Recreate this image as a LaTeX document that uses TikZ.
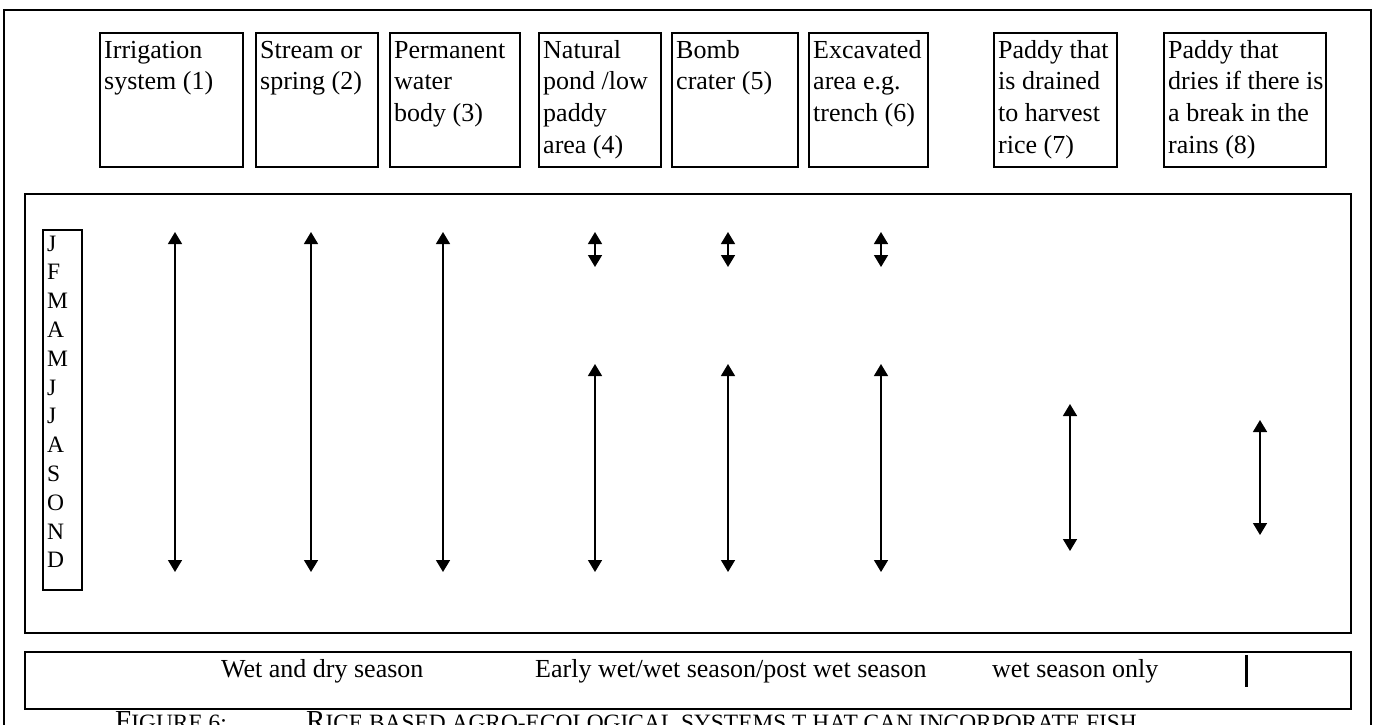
\documentclass[tikz,border=0pt]{standalone}
\usepackage{fontspec}
\setmainfont{Liberation Serif}
\usetikzlibrary{arrows.meta,calc}
\tikzset{
  frameline/.style={draw, line width=1.8pt},
  topbox/.style={draw, line width=1.8pt, anchor=north west, inner sep=0pt, minimum height=134pt},
  boxtext/.style={anchor=base west, inner sep=0pt, font=\fontsize{26}{31.7}\selectfont},
  monthtext/.style={anchor=base west, inner sep=0pt, font=\fontsize{23.5}{23.5}\selectfont},
  seasontext/.style={anchor=base west, inner sep=0pt, font=\fontsize{26}{26}\selectfont},
  period/.style={line width=1.5pt, {Triangle[width=14pt,length=12pt]}-{Triangle[width=14pt,length=12pt]}},
}
\begin{document}
\begin{tikzpicture}[x=1pt,y=-1pt]
\useasboundingbox (0,0) rectangle (1375,724);
\clip (0,0) rectangle (1375,724);
% outer frame
\draw[line width=2.5pt] (4,10) rectangle (1371,780);
% top boxes
\node[topbox, minimum width=143pt] (b1) at (99,32) {};
\node[topbox, minimum width=122pt] (b2) at (255,32) {};
\node[topbox, minimum width=130pt] (b3) at (389,32) {};
\node[topbox, minimum width=122pt] (b4) at (538,32) {};
\node[topbox, minimum width=126pt] (b5) at (671,32) {};
\node[topbox, minimum width=119pt] (b6) at (808,32) {};
\node[topbox, minimum width=123pt] (b7) at (993,32) {};
\node[topbox, minimum width=162pt] (b8) at (1163,32) {};
\node[boxtext] (t1) at ($(b1.north west)+(5,26)$) {\parbox[t]{140pt}{Irrigation\\system (1)}};
\node[boxtext] (t2) at ($(b2.north west)+(5,26)$) {\parbox[t]{140pt}{Stream or\\spring (2)}};
\node[boxtext] (t3) at ($(b3.north west)+(5,26)$) {\parbox[t]{140pt}{Permanent\\water\\body (3)}};
\node[boxtext] (t4) at ($(b4.north west)+(5,26)$) {\parbox[t]{140pt}{Natural\\pond /low\\paddy\\area (4)}};
\node[boxtext] (t5) at ($(b5.north west)+(5,26)$) {\parbox[t]{140pt}{Bomb\\crater (5)}};
\node[boxtext] (t6) at ($(b6.north west)+(5,26)$) {\parbox[t]{140pt}{Excavated\\area e.g.\\trench (6)}};
\node[boxtext] (t7) at ($(b7.north west)+(5,26)$) {\parbox[t]{140pt}{Paddy that\\is drained\\to harvest\\rice (7)}};
\node[boxtext] (t8) at ($(b8.north west)+(5,26)$) {\parbox[t]{160pt}{Paddy that\\dries if there is\\a break in the\\rains (8)}};
% main box
\draw[frameline] (25,194) rectangle (1351,633);
% month box
\draw[frameline] (43,230) rectangle (82,590);
\foreach \m [count=\i from 0] in {J,F,M,A,M,J,J,A,S,O,N,D}
  \node[monthtext] (m\i) at (47,{251+\i*28.8}) {\m};
% arrows
\coordinate (a1t) at (175,232); \coordinate (a1b) at (175,572);
\coordinate (a2t) at (311,232); \coordinate (a2b) at (311,572);
\coordinate (a3t) at (443,232); \coordinate (a3b) at (443,572);
\coordinate (a4t) at (595,232); \coordinate (a4b) at (595,267);
\coordinate (a5t) at (728,232); \coordinate (a5b) at (728,267);
\coordinate (a6t) at (881,232); \coordinate (a6b) at (881,267);
\coordinate (c4t) at (595,364); \coordinate (c4b) at (595,572);
\coordinate (c5t) at (728,364); \coordinate (c5b) at (728,572);
\coordinate (c6t) at (881,364); \coordinate (c6b) at (881,572);
\coordinate (a7t) at (1070,404); \coordinate (a7b) at (1070,551);
\coordinate (a8t) at (1260,420); \coordinate (a8b) at (1260,535);
\foreach \p in {a1,a2,a3,a4,a5,a6,c4,c5,c6,a7,a8}
  \draw[period] (\p t) -- (\p b);
% season box
\draw[frameline] (25,652) rectangle (1351,709);
\node[seasontext] (s1) at (221,677) {Wet and dry season};
\node[seasontext] (s2) at (535,677) {Early wet/wet season/post wet season};
\node[seasontext] (s3) at (992,677) {wet season only};
\coordinate (bart) at (1246,655); \coordinate (barb) at (1246,687);
\draw[line width=3pt] (bart) -- (barb);
% caption
\node[anchor=base west, inner sep=0pt] (cap1) at (115,730) {\fontsize{29}{29}\selectfont F\fontsize{23.4}{23.4}\selectfont IGURE 6:};
\node[anchor=base west, inner sep=0pt] (cap2) at (306,730) {\fontsize{29}{29}\selectfont R\fontsize{23.4}{23.4}\selectfont ICE BASED AGRO-ECOLOGICAL SYSTEMS T HAT CAN INCORPORATE FISH};
\end{tikzpicture}
\end{document}
